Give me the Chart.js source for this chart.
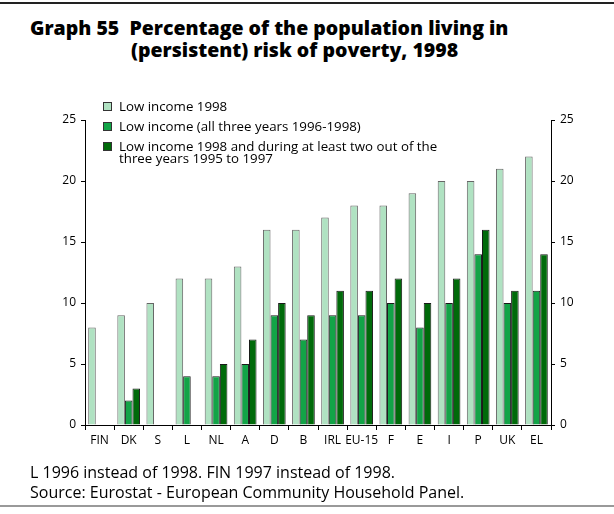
<!DOCTYPE html>
<html><head><meta charset="utf-8">
<script src="https://cdn.jsdelivr.net/npm/chart.js@4/dist/chart.umd.min.js"></script>
<style>
html,body{margin:0;padding:0;background:#fff;}
#wrap{position:relative;width:614px;height:514px;overflow:hidden;font-family:"Open Sans",sans-serif;color:#000;}
#topline{position:absolute;left:0;top:2px;width:614px;height:2px;background:#222;}
#botline{position:absolute;left:0;top:505px;width:614px;height:2px;background:#999;}
#title{position:absolute;left:30px;top:17px;font-weight:800;font-size:19.5px;line-height:22px;white-space:nowrap;}
#title .l2{padding-left:101px;}
#legend{position:absolute;left:103px;top:100px;font-size:13.3px;line-height:12px;}
.li{position:relative;padding-left:16px;margin-bottom:8px;}
.sw{position:absolute;left:0;top:2px;width:7px;height:7px;border:1px solid #333;}
#notes{position:absolute;left:30px;top:462px;font-size:16px;line-height:20px;white-space:nowrap;}
canvas{position:absolute;left:0;top:0;}
</style></head>
<body><div id="wrap">
<div id="topline"></div>
<div id="title">Graph 55&nbsp; Percentage of the population living in<br><span class="l2">(persistent) risk of poverty, 1998</span></div>
<canvas id="c" width="614" height="514"></canvas>
<div id="legend"></div>
<div id="notes">L 1996 instead of 1998. FIN 1997 instead of 1998.<br>Source: Eurostat - European Community Household Panel.</div>
<div id="botline"></div>
</div>
<script>
const categories = ["FIN","DK","S","L","NL","A","D","B","IRL","EU-15","F","E","I","P","UK","EL"];
const lowIncome1998 = [8,9,10,12,12,13,16,16,17,18,18,19,20,20,21,22];
const lowIncomeAllThree = [null,2,null,4,4,5,9,7,9,9,10,8,10,14,10,11];
const lowIncomeTwoOfThree = [null,3,null,null,5,7,10,9,11,11,12,10,12,16,11,14];
const seriesNames = ["Low income 1998","Low income (all three years 1996-1998)","Low income 1998 and during at least two out of the\nthree years 1995 to 1997"];
const yTicks = [0,5,10,15,20,25];

const colors = ["#b0e2c2","#12a447","#006a0a"];
const borders = ["#666666","#1a1a1a","#1a1a1a"];

const lg = document.getElementById('legend');
seriesNames.forEach((n,i)=>{
  const d=document.createElement('div');d.className='li';
  d.innerHTML='<span class="sw" style="background:'+colors[i]+'"></span>'+n.replace('\n','<br>');
  lg.appendChild(d);
});

const font = {family:"'Open Sans', sans-serif", size:12};
new Chart(document.getElementById('c'),{
  type:'bar',
  data:{labels:categories,datasets:[
    {label:seriesNames[0],data:lowIncome1998,backgroundColor:colors[0],borderColor:borders[0],borderWidth:1,yAxisID:'y'},
    {label:seriesNames[1],data:lowIncomeAllThree,backgroundColor:colors[1],borderColor:borders[1],borderWidth:1,yAxisID:'y'},
    {label:seriesNames[2],data:lowIncomeTwoOfThree,backgroundColor:colors[2],borderColor:borders[2],borderWidth:1,yAxisID:'y'}
  ]},
  options:{
    responsive:false,animation:false,
    layout:{padding:{left:0,right:0,top:120,bottom:0}},
    datasets:{bar:{categoryPercentage:0.78,barPercentage:1.0,borderSkipped:'start'}},
    plugins:{legend:{display:false},tooltip:{enabled:false},title:{display:false}},
    scales:{
      x:{
        offset:true,
        grid:{offset:true,drawOnChartArea:false,drawTicks:true,tickLength:5,color:'#000',tickColor:'#000'},
        border:{display:true,color:'#000',width:1},
        ticks:{color:'#000',font:font,padding:3,maxRotation:0,autoSkip:false},
        afterFit:(s)=>{s.height=89;}
      },
      y:{
        position:'left',min:0,max:25,
        afterBuildTicks:(s)=>{s.ticks=yTicks.map(v=>({value:v}));},
        grid:{drawOnChartArea:false,tickLength:4,tickColor:'#000'},
        border:{display:true,color:'#000',width:1},
        ticks:{color:'#000',font:font,padding:5},
        afterFit:(s)=>{s.width=85;}
      },
      y2:{
        position:'right',min:0,max:25,
        afterBuildTicks:(s)=>{s.ticks=yTicks.map(v=>({value:v}));},
        grid:{drawOnChartArea:false,tickLength:4,tickColor:'#000'},
        border:{display:true,color:'#000',width:1},
        ticks:{color:'#000',font:font,padding:5},
        afterFit:(s)=>{s.width=63;}
      }
    }
  }
});
</script>
</body></html>
